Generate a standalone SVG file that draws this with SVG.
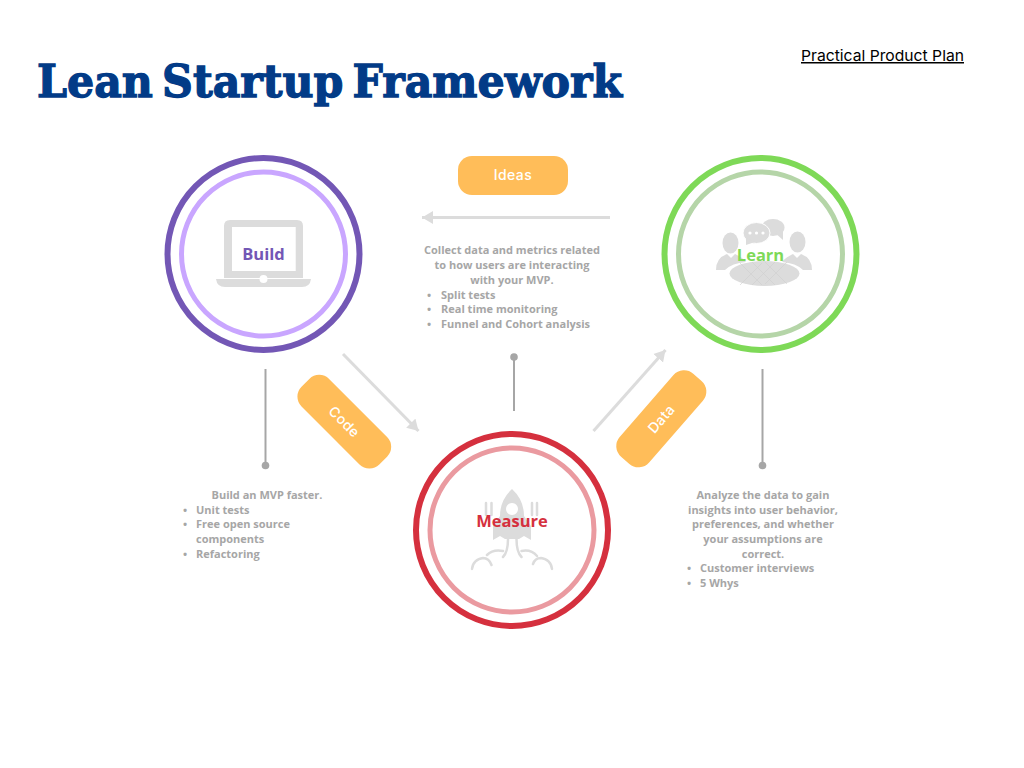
<svg xmlns="http://www.w3.org/2000/svg" width="1024" height="768" viewBox="0 0 1024 768">
<style>
.outer{fill:none;stroke-width:6}
.inner{fill:none;stroke-width:5}
.icon{fill:#dcdcdc}
.iconline{fill:none;stroke:#dcdcdc;stroke-width:2.500;stroke-linecap:round}
.label{font-family:"Open Sans",sans-serif;font-weight:700;font-size:16.500px;text-anchor:middle}
.pill{fill:#ffbd59}
.pilltext{font-family:Inter,sans-serif;font-weight:500;font-size:14px;letter-spacing:.4px;fill:#fff;text-anchor:middle}
.body{font-family:"Open Sans",sans-serif;font-weight:700;font-size:11px;fill:#a6a6a6}
.mid{text-anchor:middle}
.flow{stroke:#dcdcdc;stroke-width:3;fill:none;marker-end:url(#head)}
.stem{stroke:#a6a6a6;stroke-width:2;fill:none}
.dot{fill:#a6a6a6}
</style>
<defs>
<marker id="head" markerUnits="userSpaceOnUse" markerWidth="14" markerHeight="14" refX="11" refY="7" orient="auto">
<path d="M0 .5L11 7L0 13.5Z" fill="#dcdcdc"/>
</marker>
</defs>
<rect width="1024" height="768" fill="#fff"/>
<text id="title" x="37" y="97" font-family="'DejaVu Serif',serif" font-weight="700" font-size="45" fill="#023b87" stroke="#023b87" stroke-width="1.300" word-spacing="-6" textLength="585" lengthAdjust="spacingAndGlyphs">Lean Startup Framework</text>
<text id="subtitle" x="801" y="61" font-family="Inter,sans-serif" font-size="15px" fill="#000" text-decoration="underline" textLength="163" lengthAdjust="spacingAndGlyphs">Practical Product Plan</text>
<g id="connectors">
<line class="flow" x1="610" y1="217.500" x2="422" y2="217.500"/>
<line class="flow" x1="343" y1="354" x2="418.500" y2="431"/>
<line class="flow" x1="593.500" y1="431" x2="665.500" y2="350"/>
<g id="stem-build"><line class="stem" x1="265.500" y1="369" x2="265.500" y2="465"/><circle class="dot" cx="265.500" cy="465.500" r="3.800"/></g>
<g id="stem-measure"><line class="stem" x1="514" y1="357" x2="514" y2="411"/><circle class="dot" cx="514" cy="357" r="3.800"/></g>
<g id="stem-learn"><line class="stem" x1="762.500" y1="369" x2="762.500" y2="465"/><circle class="dot" cx="762.500" cy="465.500" r="3.800"/></g>
</g>
<g id="node-build">
<circle class="outer" cx="263.500" cy="254" r="96" stroke="#7357b5"/>
<circle class="inner" cx="263.500" cy="254" r="82" stroke="#c9a6ff"/>
<path class="icon" fill-rule="evenodd" d="M230 220H297Q303 220 303 226V278H224V226Q224 220 230 220ZM232 227V271H295.700V227Z"/>
<path class="icon" d="M216 279H311Q310 287 302 287H225Q217 287 216 279Z"/>
<circle cx="263.500" cy="279" r="4" fill="#fff"/>
<text class="label" x="263.500" y="260" fill="#7357b5">Build</text>
</g>
<g id="node-learn">
<circle class="outer" cx="760.500" cy="254" r="96" stroke="#7ed957"/>
<circle class="inner" cx="760.500" cy="254" r="82" stroke="#b5d5a8"/>
<ellipse class="icon" cx="730.500" cy="243" rx="8" ry="10.500"/>
<ellipse class="icon" cx="797.500" cy="242" rx="8" ry="10.500"/>
<path class="icon" d="M716 270Q716 258 727 254L731 258L735 254Q742 257 746 262Q732 263 725 270Z"/>
<path class="icon" d="M812 270Q812 258 801 254L797 258L793 254Q786 257 782 262Q796 263 803 270Z"/>
<ellipse class="icon" cx="764.500" cy="273.500" rx="35" ry="12.500"/>
<path d="M740 263L762 285M762 263L740 285M752 262L775 285M775 262L752 285M765 262L787 284M787 262L765 284" fill="none" stroke="#cfcfcf" stroke-width=".6"/>
<ellipse class="icon" cx="773" cy="227.500" rx="11.500" ry="8.500"/>
<path class="icon" d="M774 232L783 240L783 229Z"/>
<ellipse class="icon" cx="756.500" cy="233" rx="13.500" ry="10.500" stroke="#fff" stroke-width="1"/>
<path class="icon" d="M746 238L746 245L755 242Z"/>
<circle cx="750" cy="233" r="1.600" fill="#fff"/><circle cx="756.500" cy="233" r="1.600" fill="#fff"/><circle cx="763" cy="233" r="1.600" fill="#fff"/>
<text class="label" x="760.500" y="261" fill="#7ed957">Learn</text>
</g>
<g id="node-measure">
<circle class="outer" cx="512" cy="530" r="96" stroke="#d5303e"/>
<circle class="inner" cx="512" cy="530" r="82" stroke="#ea9aa0"/>
<path class="icon" fill-rule="evenodd" d="M512 489Q524 500 524 516L531 526V540L524 536L519 539H505L500 536L493 540V526L500 516Q500 500 512 489ZM512 503A6 6 0 1 0 512.010 503Z"/>
<path class="iconline" d="M486 503V515M491.500 503V515M532 503V515M537 503V515"/>
<path class="iconline" d="M508 539Q508 552 503 557M516.500 539Q516.500 552 521.500 557"/>
<path class="iconline" d="M472 569A12 12 0 0 1 483 558Q489 558 491.500 565M487 555Q493 549 503 551M552 569A12 12 0 0 0 541 558Q535 558 533 564M537 556Q531 549 521.500 551"/>
<text class="label" x="512" y="527" fill="#d5303e">Measure</text>
</g>
<g id="pill-ideas">
<rect class="pill" x="458" y="156" width="110" height="39" rx="14"/>
<text class="pilltext" x="513" y="180">Ideas</text>
</g>
<g id="pill-code" transform="translate(344.300 421.700) rotate(45)">
<rect class="pill" x="-55" y="-19.500" width="110" height="39" rx="14"/>
<text class="pilltext" x="0" y="5">Code</text>
</g>
<g id="pill-data" transform="translate(661.300 418.800) rotate(-49)">
<rect class="pill" x="-55" y="-19.500" width="110" height="39" rx="14"/>
<text class="pilltext" x="0" y="5">Data</text>
</g>
<g id="text-measure" class="body">
<text class="mid" x="512" y="254">Collect data and metrics related</text>
<text class="mid" x="512" y="269">to how users are interacting</text>
<text class="mid" x="512" y="284">with your MVP.</text>
<text x="427" y="299">•</text><text x="441" y="299">Split tests</text>
<text x="427" y="313">•</text><text x="441" y="313">Real time monitoring</text>
<text x="427" y="328">•</text><text x="441" y="328">Funnel and Cohort analysis</text>
</g>
<g id="text-build" class="body">
<text class="mid" x="267" y="499">Build an MVP faster.</text>
<text x="183" y="514">•</text><text x="196" y="514">Unit tests</text>
<text x="183" y="528">•</text><text x="196" y="528">Free open source</text>
<text x="196" y="543">components</text>
<text x="183" y="558">•</text><text x="196" y="558">Refactoring</text>
</g>
<g id="text-learn" class="body">
<text class="mid" x="763" y="499">Analyze the data to gain</text>
<text class="mid" x="763" y="514">insights into user behavior,</text>
<text class="mid" x="763" y="528">preferences, and whether</text>
<text class="mid" x="763" y="543">your assumptions are</text>
<text class="mid" x="763" y="558">correct.</text>
<text x="687" y="572">•</text><text x="700" y="572">Customer interviews</text>
<text x="687" y="587">•</text><text x="700" y="587">5 Whys</text>
</g>
</svg>
